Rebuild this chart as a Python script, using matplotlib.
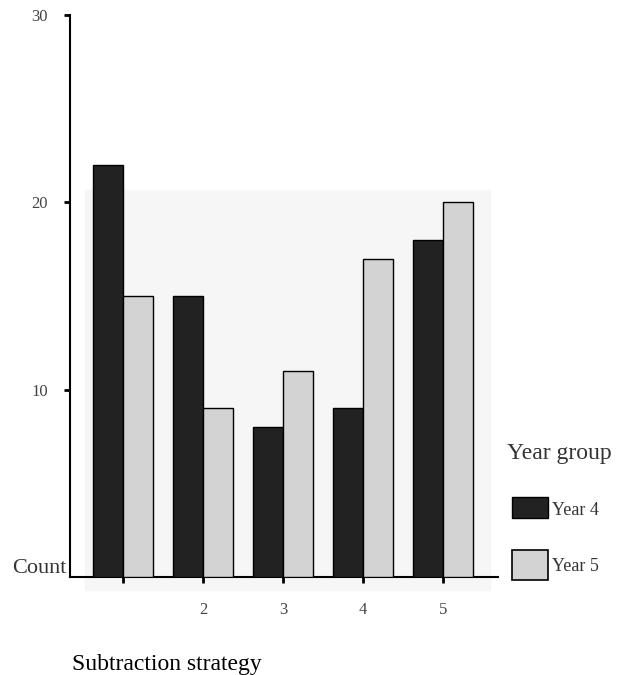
import matplotlib.pyplot as plt
import numpy as np
from matplotlib.patches import Rectangle

strategies = [1, 2, 3, 4, 5]
tick_labels = ['', '2', '3', '4', '5']
year4 = [22, 15, 8, 9, 18]
year5 = [15, 9, 11, 17, 20]

plt.rcParams['font.family'] = ['Liberation Serif', 'DejaVu Serif']

fig = plt.figure(figsize=(6.21, 6.75), dpi=100)
ax = fig.add_axes([70 / 621, 98 / 675, 428 / 621, 562 / 675])
ax.set_facecolor('none')

# faint grey patch behind the bars (scan look)
ax.add_patch(Rectangle((85 / 621, 85 / 675), 405 / 621, 400 / 675,
                       transform=fig.transFigure, color='#f6f6f6', zorder=0,
                       clip_on=False))

x = np.array(strategies)
w = 30 / 80
ax.bar(x - w / 2, year4, width=w, color='#222222', edgecolor='black', linewidth=1, zorder=3)
ax.bar(x + w / 2, year5, width=w, color='#d3d3d3', edgecolor='black', linewidth=1, zorder=3)

ax.set_xlim(1 - 53 / 80, 1 + 375 / 80)
ax.set_ylim(0, 30)
ax.set_yticks([10, 20, 30])
ax.set_yticklabels(['10', '20', '30'])
ax.set_xticks(x)
ax.set_xticklabels(tick_labels)
ax.tick_params(axis='both', direction='out', length=4, width=2, labelsize=12,
               labelcolor='#444444')
ax.tick_params(axis='y', pad=12)
ax.tick_params(axis='x', pad=14)

for s in ['top', 'right']:
    ax.spines[s].set_visible(False)
ax.spines['left'].set_linewidth(1.5)
ax.spines['bottom'].set_linewidth(1.5)

ax.text(12 / 621, 1 - 573 / 675, 'Count', fontsize=16, color='#333333', zorder=1,
        transform=fig.transFigure, clip_on=False)
fig.text(72 / 621, 1 - 670 / 675, 'Subtraction strategy', fontsize=17, color='black')

# legend
fig.text(507 / 621, 1 - 459 / 675, 'Year group', fontsize=17, color='#333333')
fig.patches.append(Rectangle((512 / 621, 1 - 518 / 675), 36 / 621, 21 / 675,
                             transform=fig.transFigure, facecolor='#222222',
                             edgecolor='black', linewidth=1))
fig.text(552 / 621, 1 - 515 / 675, 'Year 4', fontsize=13, color='#333333')
fig.patches.append(Rectangle((512 / 621, 1 - 580 / 675), 36 / 621, 30 / 675,
                             transform=fig.transFigure, facecolor='#d3d3d3',
                             edgecolor='black', linewidth=1.2))
fig.text(552 / 621, 1 - 571 / 675, 'Year 5', fontsize=13, color='#333333')

fig.savefig('out.png', dpi=100)
